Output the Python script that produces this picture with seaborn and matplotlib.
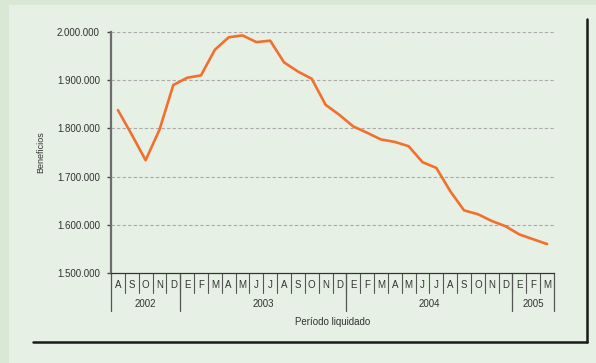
import matplotlib
matplotlib.use("Agg")
import matplotlib.pyplot as plt
import matplotlib.patches as mpatches
from matplotlib.lines import Line2D
from matplotlib.ticker import FuncFormatter, FixedLocator
import seaborn as sns
import pandas as pd

# Monthly beneficiaries, August 2002 - March 2005
months = ["A", "S", "O", "N", "D",
          "E", "F", "M", "A", "M", "J", "J", "A", "S", "O", "N", "D",
          "E", "F", "M", "A", "M", "J", "J", "A", "S", "O", "N", "D",
          "E", "F", "M"]
years = ["2002", "2003", "2004", "2005"]
months_per_year = [5, 12, 12, 3]
beneficiarios = [1838000, 1787000, 1734000, 1797000, 1890000,
                 1905000, 1910000, 1963000, 1989000, 1993000, 1979000, 1982000,
                 1937000, 1918000, 1903000, 1849000, 1828000,
                 1804000, 1791000, 1777000, 1772000, 1763000, 1730000, 1718000,
                 1670000, 1630000, 1622000, 1608000, 1597000,
                 1580000, 1570000, 1560000]
y_ticks = [1500000, 1600000, 1700000, 1800000, 1900000, 2000000]

df = pd.DataFrame({"idx": range(len(beneficiarios)), "valor": beneficiarios})

sns.set_theme(style="white")
plt.rcParams["font.family"] = ["Liberation Sans", "DejaVu Sans"]

outer_bg = "#d8e8d4"
inner_bg = "#e6f0e4"
text_col = "#333333"

fig = plt.figure(figsize=(5.96, 3.63), dpi=100, facecolor=outer_bg)
fig.patches.append(mpatches.Rectangle((9 / 596, 0), 1, (363 - 5) / 363,
                                      transform=fig.transFigure,
                                      facecolor=inner_bg, edgecolor="none",
                                      zorder=-5))

ax = fig.add_axes([111 / 596, 90 / 363, 443 / 596, 241 / 363])
ax.set_zorder(2)
ax.set_facecolor("none")

sns.lineplot(data=df, x="idx", y="valor", ax=ax, color="#f36f2e",
             linewidth=1.9, zorder=3)

n = len(months)
ax.set_xlim(-0.5, n - 0.5)
ax.set_ylim(y_ticks[0], y_ticks[-1])

# y axis
ax.yaxis.set_major_locator(FixedLocator(y_ticks))
ax.yaxis.set_major_formatter(FuncFormatter(lambda v, p: f"{int(v):,}".replace(",", ".")))
ax.tick_params(axis="y", direction="out", length=3, width=1, color="#444444",
               pad=5, labelsize=7, labelcolor=text_col, left=True)
for t in y_ticks[1:]:
    ax.axhline(t, color="#aaaaaa", linestyle=(0, (3, 2)), linewidth=0.8, zorder=1)

for side in ["top", "right"]:
    ax.spines[side].set_visible(False)
ax.spines["left"].set_color("#6d6d6d")
ax.spines["left"].set_linewidth(1.6)
ax.spines["bottom"].set_color("#333333")
ax.spines["bottom"].set_linewidth(0.9)

# x axis: month letters and year bands
ax.set_xticks([])
ax.set_xlabel("")
ax.set_ylabel("Beneficios", fontsize=6.5, color=text_col)
ax.yaxis.set_label_coords((45 - 111) / 443, 0.5)

trans = ax.get_xaxis_transform()
px = 1 / 241  # one pixel in axes height units
for i, m in enumerate(months):
    ax.text(i, -12 * px, m, transform=trans, ha="center", va="center",
            fontsize=7, color=text_col)
for b in range(1, n):
    ax.add_line(Line2D([b - 0.5, b - 0.5], [0, -20 * px], transform=trans,
                       color="#555555", linewidth=0.8, clip_on=False))

start = 0
bounds = [0]
for y, k in zip(years, months_per_year):
    ax.text(start + (k - 1) / 2, -31 * px, y, transform=trans, ha="center",
            va="center", fontsize=7, color=text_col)
    start += k
    bounds.append(start)
for b in bounds:
    ax.add_line(Line2D([b - 0.5, b - 0.5], [0, -38 * px], transform=trans,
                       color="#555555", linewidth=0.9, clip_on=False))

ax.text(0.5, -49 * px, "Período liquidado", transform=ax.transAxes,
        ha="center", va="center", fontsize=7, color=text_col)

# frame lines at bottom and right
fig.add_artist(Line2D([33 / 596, 587 / 596], [1 - 341.5 / 363, 1 - 341.5 / 363],
                      transform=fig.transFigure, color="#1a1a1a", linewidth=1.8))
fig.add_artist(Line2D([587 / 596, 587 / 596], [1 - 19 / 363, 1 - 341.5 / 363],
                      transform=fig.transFigure, color="#1a1a1a", linewidth=1.8))

fig.savefig("out.png", dpi=100, facecolor=outer_bg)
